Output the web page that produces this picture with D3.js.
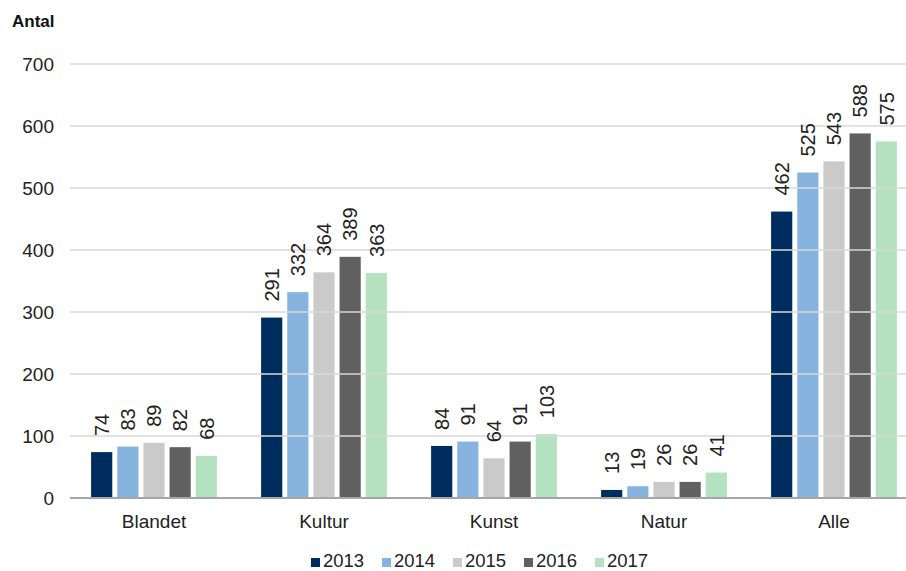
<!DOCTYPE html>
<html>
<head>
<meta charset="utf-8">
<script src="https://cdn.jsdelivr.net/npm/d3@7"></script>
<style>
  body { margin: 0; background: #fff; }
  svg { display: block; font-family: "Liberation Sans", sans-serif; }
</style>
</head>
<body>
<div id="container"><svg></svg></div>
<script>
let width = 906;
let height = 571;

// data
let categories = ["Blandet", "Kultur", "Kunst", "Natur", "Alle"];
let years = ["2013", "2014", "2015", "2016", "2017"];
let v2013 = [74, 291, 84, 13, 462];
let v2014 = [83, 332, 91, 19, 525];
let v2015 = [89, 364, 64, 26, 543];
let v2016 = [82, 389, 91, 26, 588];
let v2017 = [68, 363, 103, 41, 575];
let yTicks = [0, 100, 200, 300, 400, 500, 600, 700];
let colors = ["#002d5f", "#86b4de", "#cacaca", "#606060", "#b4e1c0"];

let series = [v2013, v2014, v2015, v2016, v2017];

let svg = d3.select('#container').select('svg')
    .attr('width', width)
    .attr('height', height);

let x0 = d3.scaleBand()
    .domain(categories)
    .range([69, 919])
    .paddingInner(0.26)
    .paddingOuter(0.13);

let x1 = d3.scaleBand()
    .domain(years)
    .range([0, x0.bandwidth()])
    .paddingInner(0.19);

let y = d3.scaleLinear()
    .domain([0, 700])
    .range([498, 64]);

let color = d3.scaleOrdinal(years, colors);

// title
svg.append("text")
    .attr("x", 12)
    .attr("y", 27)
    .attr("font-size", 17)
    .attr("font-weight", "bold")
    .attr("fill", "#111")
    .text("Antal");

// bars
let rows = [];
categories.forEach((c, i) => {
    years.forEach((yr, j) => rows.push({cat: c, year: yr, value: series[j][i]}));
});

svg.append("g")
    .selectAll("rect")
    .data(rows)
    .join("rect")
    .attr("x", d => x0(d.cat) + x1(d.year))
    .attr("y", d => y(d.value))
    .attr("width", x1.bandwidth())
    .attr("height", d => y(0) - y(d.value))
    .attr("fill", d => color(d.year));

// gridlines (drawn over the bars like the original)
svg.append("g")
    .selectAll("line")
    .data(yTicks.filter(t => t > 0))
    .join("line")
    .attr("x1", 70)
    .attr("x2", width)
    .attr("y1", d => y(d))
    .attr("y2", d => y(d))
    .attr("stroke", "#d9d9d9")
    .attr("stroke-width", 1.5);

// y axis labels
let yAxis = d3.axisLeft(y).tickValues(yTicks).tickSize(0).tickPadding(0);
let ya = svg.append("g")
    .attr("transform", "translate(54,0)")
    .call(yAxis);
ya.select(".domain").remove();
ya.selectAll("text")
    .attr("font-size", 19)
    .attr("font-family", "Liberation Sans, sans-serif")
    .attr("fill", "#222")
    .attr("dy", "0.36em");

// baseline
svg.append("line")
    .attr("x1", 70)
    .attr("x2", width)
    .attr("y1", y(0))
    .attr("y2", y(0))
    .attr("stroke", "#a6a6a6")
    .attr("stroke-width", 2);

// x axis labels
let xAxis = d3.axisBottom(x0).tickSize(0).tickPadding(0);
let xa = svg.append("g")
    .attr("transform", "translate(0," + y(0) + ")")
    .call(xAxis);
xa.select(".domain").remove();
xa.selectAll("text")
    .attr("font-size", 19)
    .attr("font-family", "Liberation Sans, sans-serif")
    .attr("fill", "#222")
    .attr("dy", "0")
    .attr("y", 30);

// value labels, rotated
svg.append("g")
    .selectAll("text")
    .data(rows)
    .join("text")
    .attr("transform", d => {
        let cx = x0(d.cat) + x1(d.year) + x1.bandwidth() / 2;
        let cy = y(d.value) - 16;
        return "translate(" + cx + "," + cy + ") rotate(-90)";
    })
    .attr("dy", "0.36em")
    .attr("font-family", "'Liberation Sans Narrow', 'Liberation Sans', sans-serif")
    .attr("font-size", 20)
    .attr("fill", "#222")
    .text(d => d.value);

// legend
let legend = svg.append("g")
    .selectAll("g")
    .data(years)
    .join("g")
    .attr("transform", (d, i) => "translate(" + (311 + i * 71) + ",558)");
legend.append("rect")
    .attr("width", 9)
    .attr("height", 9)
    .attr("fill", d => color(d));
legend.append("text")
    .attr("x", 12)
    .attr("y", 8.5)
    .attr("font-size", 18.5)
    .attr("fill", "#222")
    .text(d => d);
</script>
</body>
</html>
